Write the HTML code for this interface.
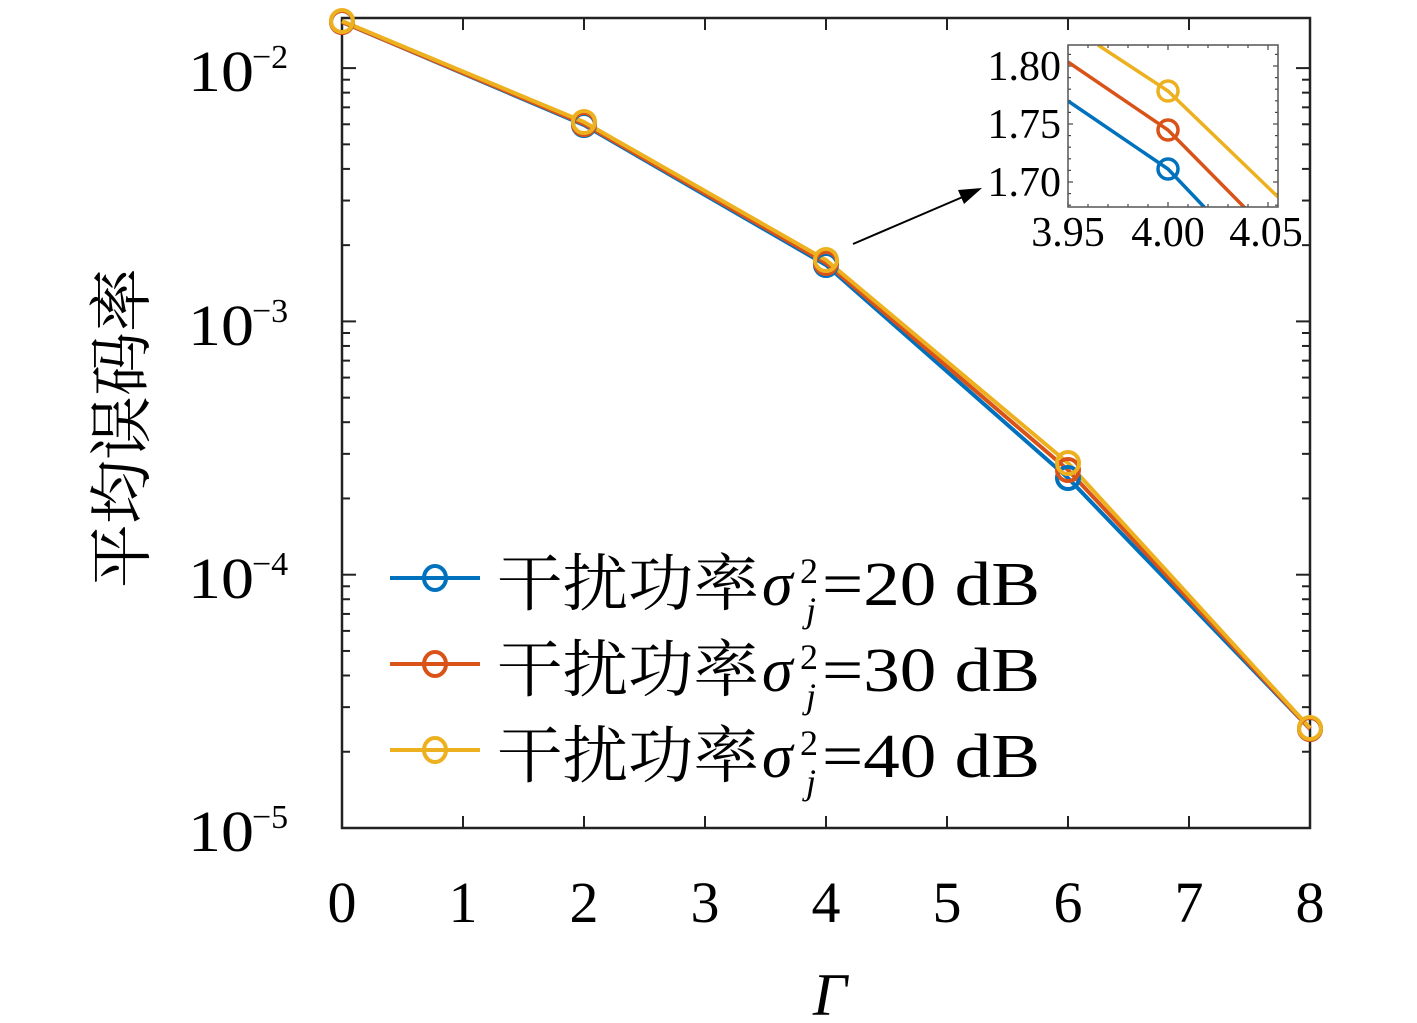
<!DOCTYPE html>
<html><head><meta charset="utf-8"><style>
html,body{margin:0;padding:0;background:#fff;}
svg{display:block;}
text{font-family:"Liberation Serif","Noto Serif CJK SC",serif;fill:#000;}
</style></head><body>
<svg id="s" width="1417" height="1023" viewBox="0 0 1417 1023" xmlns="http://www.w3.org/2000/svg">
<rect x="0" y="0" width="1417" height="1023" fill="#fff"/>
<g id="ticks" stroke="#222" stroke-width="2"></g>
<rect x="342" y="18" width="968" height="810" fill="none" stroke="#222" stroke-width="2.5"/>
<g fill="none" stroke-width="4" stroke-linejoin="round">
<polyline stroke="#0072BD" points="342,22 584,125 826,265 1068,478 1310,729"/>
<polyline stroke="#D95319" points="342,22 584,124 826,263 1068,470 1310,729"/>
<polyline stroke="#EDB120" points="342,21 584,122 826,260 1068,463 1310,728"/>
<g stroke="#0072BD"><circle cx="342" cy="22" r="11"/><circle cx="584" cy="125" r="11"/><circle cx="826" cy="265" r="11"/><circle cx="1068" cy="478" r="11"/><circle cx="1310" cy="729" r="11"/></g>
<g stroke="#D95319"><circle cx="342" cy="22" r="11"/><circle cx="584" cy="124" r="11"/><circle cx="826" cy="263" r="11"/><circle cx="1068" cy="470" r="11"/><circle cx="1310" cy="729" r="11"/></g>
<g stroke="#EDB120"><circle cx="342" cy="21" r="11"/><circle cx="584" cy="122" r="11"/><circle cx="826" cy="260" r="11"/><circle cx="1068" cy="463" r="11"/><circle cx="1310" cy="728" r="11"/></g>
</g>
<g font-size="58" text-anchor="middle">
<text x="342" y="922">0</text><text x="463" y="922">1</text><text x="584" y="922">2</text><text x="705" y="922">3</text><text x="826" y="922">4</text><text x="947" y="922">5</text><text x="1068" y="922">6</text><text x="1189" y="922">7</text><text x="1310" y="922">8</text>
</g>
<text x="830" y="1015" font-size="60" font-style="italic" text-anchor="middle">Γ</text>
<g font-size="58">
<text x="188" y="91" textLength="66" lengthAdjust="spacingAndGlyphs">10</text><text x="252" y="68" font-size="34">−2</text>
<text x="188" y="345" textLength="66" lengthAdjust="spacingAndGlyphs">10</text><text x="252" y="322" font-size="34">−3</text>
<text x="188" y="598" textLength="66" lengthAdjust="spacingAndGlyphs">10</text><text x="252" y="575" font-size="34">−4</text>
<text x="188" y="851" textLength="66" lengthAdjust="spacingAndGlyphs">10</text><text x="252" y="828" font-size="34">−5</text>
</g>
<text transform="translate(144,428) rotate(-90)" font-size="64" text-anchor="middle">平均误码率</text>
<g stroke-width="4" fill="none">
<line x1="390" y1="578" x2="480" y2="578" stroke="#0072BD"/><ellipse cx="435" cy="578" rx="11" ry="12" stroke="#0072BD"/>
<line x1="390" y1="664" x2="480" y2="664" stroke="#D95319"/><ellipse cx="435" cy="664" rx="11" ry="12" stroke="#D95319"/>
<line x1="390" y1="750" x2="480" y2="750" stroke="#EDB120"/><ellipse cx="435" cy="750" rx="11" ry="12" stroke="#EDB120"/>
</g>
<g font-size="62">
<text x="497" y="605" textLength="262" lengthAdjust="spacingAndGlyphs">干扰功率</text>
<text x="762" y="605" font-style="italic">σ</text><text x="800" y="583" font-size="36">2</text><text x="806" y="622" font-size="36" font-style="italic">j</text>
<text x="822" y="605" textLength="218" lengthAdjust="spacingAndGlyphs">=20 dB</text>
<text x="497" y="691" textLength="262" lengthAdjust="spacingAndGlyphs">干扰功率</text>
<text x="762" y="691" font-style="italic">σ</text><text x="800" y="669" font-size="36">2</text><text x="806" y="708" font-size="36" font-style="italic">j</text>
<text x="822" y="691" textLength="218" lengthAdjust="spacingAndGlyphs">=30 dB</text>
<text x="497" y="777" textLength="262" lengthAdjust="spacingAndGlyphs">干扰功率</text>
<text x="762" y="777" font-style="italic">σ</text><text x="800" y="755" font-size="36">2</text><text x="806" y="794" font-size="36" font-style="italic">j</text>
<text x="822" y="777" textLength="218" lengthAdjust="spacingAndGlyphs">=40 dB</text>
</g>
<line x1="853" y1="244" x2="965" y2="196" stroke="#000" stroke-width="2"/>
<polygon points="982,188 958,190 964,204" fill="#000"/>
<rect x="1068" y="45" width="210" height="162" fill="#fff"/>
<g id="iticks" stroke="#444" stroke-width="1.2"></g>
<defs><clipPath id="ic"><rect x="1068" y="45" width="210" height="162"/></clipPath></defs>
<g clip-path="url(#ic)" fill="none" stroke-width="3.5">
<polyline stroke="#0072BD" points="1068,101 1168,169 1207,210"/>
<polyline stroke="#D95319" points="1068,62 1168,130 1247,210"/>
<polyline stroke="#EDB120" points="1098,45 1168,91 1278,197"/>
<circle cx="1168" cy="169" r="10" stroke="#0072BD"/>
<circle cx="1168" cy="130" r="10" stroke="#D95319"/>
<circle cx="1168" cy="91" r="10" stroke="#EDB120"/>
</g>
<rect x="1068" y="45" width="210" height="162" fill="none" stroke="#555" stroke-width="1.5"/>
<g font-size="42" text-anchor="end">
<text x="1061" y="80">1.80</text><text x="1061" y="138">1.75</text><text x="1061" y="196">1.70</text>
</g>
<g font-size="42" text-anchor="middle">
<text x="1068" y="246">3.95</text><text x="1168" y="246">4.00</text><text x="1266" y="246">4.05</text>
</g>
</svg>
<script>
var ns="http://www.w3.org/2000/svg";
function L(g,x1,y1,x2,y2){var l=document.createElementNS(ns,"line");l.setAttribute("x1",x1);l.setAttribute("y1",y1);l.setAttribute("x2",x2);l.setAttribute("y2",y2);g.appendChild(l);}
var g=document.getElementById("ticks");
for(var i=0;i<=8;i++){var x=342+121*i;L(g,x,828,x,816);L(g,x,18,x,30);}
for(var d=0;d<4;d++){var b=828-253.3*d;L(g,342,b,356,b);L(g,1310,b,1296,b);
 for(var k=2;k<10;k++){var y=b-253.3*Math.log10(k);if(y<18)continue;L(g,342,y,350,y);L(g,1310,y,1302,y);}}
var h=document.getElementById("iticks");
for(var v=-5;v<=10;v++){var x=1168+20*v;if(x<1068||x>1278)continue;var t=(v%5==0)?5:3;L(h,x,207,x,207-t);L(h,x,45,x,45+t);}
for(var v=-10;v<=10;v++){var y=124-11.6*v;if(y<45||y>207)continue;var t=(v%5==0)?5:3;L(h,1068,y,1068+t,y);L(h,1278,y,1278-t,y);}
</script>
</body></html>
